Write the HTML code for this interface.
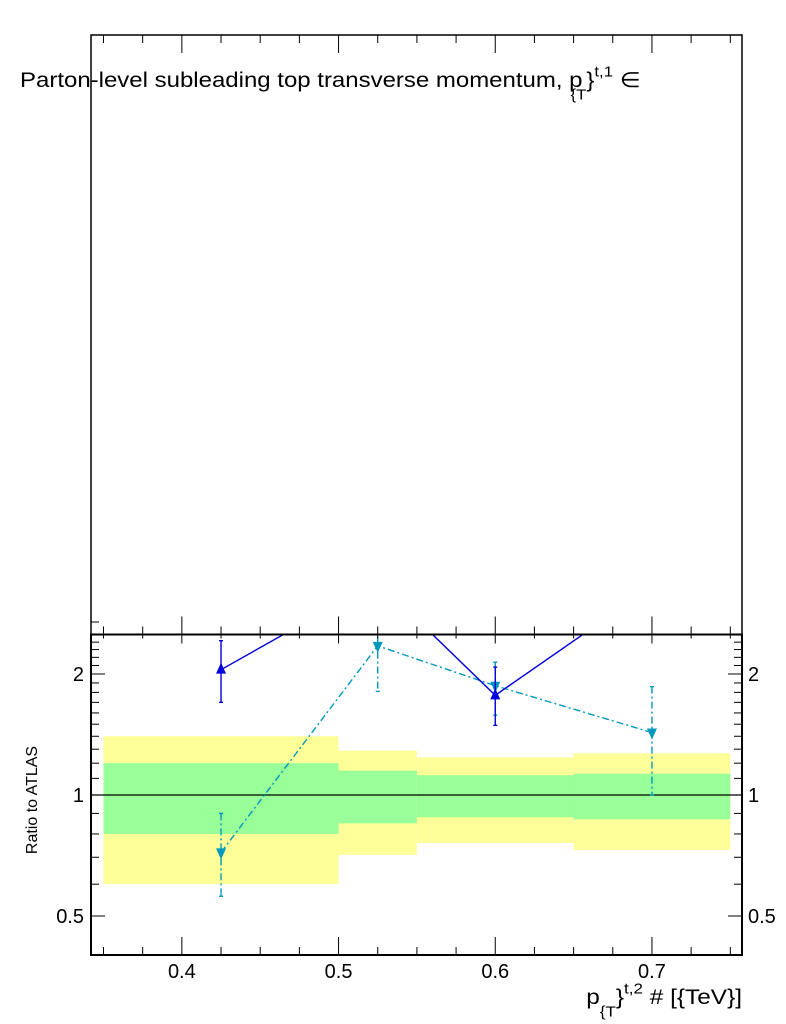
<!DOCTYPE html>
<html><head><meta charset="utf-8"><style>
html,body{margin:0;padding:0;background:#fff;width:786px;height:1024px;overflow:hidden}
svg{display:block;font-family:"Liberation Sans",sans-serif}
</style></head><body>
<svg id="c" width="786" height="1024" xmlns="http://www.w3.org/2000/svg">
<text transform="translate(20,87) scale(1.2,1.05)" x="0" y="0" font-size="20" fill="#000">Parton-level subleading top transverse momentum, p<tspan font-size="14" dy="12" dx="-10">{T</tspan><tspan font-size="20" dy="-12">}</tspan><tspan font-size="14" dy="-10">t,1</tspan><tspan font-size="20" dy="10"> ∈</tspan></text>
<text transform="translate(37,800) rotate(-90)" text-anchor="middle" font-size="16">Ratio to ATLAS</text>
<text transform="translate(742,1004) scale(1.22,1.05)" x="0" y="0" text-anchor="end" font-size="20">p<tspan font-size="14" dy="12">{T</tspan><tspan font-size="20" dy="-12">}</tspan><tspan font-size="14" dy="-10">t,2</tspan><tspan font-size="20" dy="10"> # [{TeV}]</tspan></text>
</svg>
<script>
const binEdges=[0.35,0.5,0.55,0.65,0.75];
const yellowHi=[1.40,1.29,1.24,1.27];
const yellowLo=[0.60,0.71,0.76,0.73];
const greenHi=[1.20,1.15,1.12,1.13];
const greenLo=[0.80,0.85,0.88,0.87];
const blueX=[0.425,0.525,0.6,0.7];
const blueY=[2.05,3.4,1.77,3.3];
const blueErrHi=[2.42,3.8,2.08,3.7];
const blueErrLo=[1.70,3.0,1.49,2.9];
const cyanX=[0.425,0.525,0.6,0.7];
const cyanY=[0.72,2.35,1.87,1.43];
const cyanErrHi=[0.90,2.7,2.14,1.86];
const cyanErrLo=[0.56,1.81,1.58,1.0];
const xTicks=[0.4,0.5,0.6,0.7];
const yTicks=[0.5,1,2];

const L=91,R=742,T=634.5,B=955,TOP=35;
const sx=v=>103.5+(v-0.35)*1567;
const sy=v=>795-402*Math.log10(v);
const svg=document.getElementById('c');
const NS='http://www.w3.org/2000/svg';
function mk(tag,a,parent){const e=document.createElementNS(NS,tag);for(const k in a)e.setAttribute(k,a[k]);(parent||svg).appendChild(e);return e;}
const plot=mk('g',{});


const clip=mk('clipPath',{id:'cp'});mk('rect',{x:L,y:T,width:R-L,height:B-T},clip);
const inner=mk('g',{'clip-path':'url(#cp)'},plot);
for(let i=0;i<4;i++){
 const x0=sx(binEdges[i]),x1=sx(binEdges[i+1]);
 const y=mk('rect',{x:x0,y:sy(yellowHi[i]),width:x1-x0,height:sy(yellowLo[i])-sy(yellowHi[i]),fill:'#ffff99'},inner);
 
 
 const g=mk('rect',{x:x0,y:sy(greenHi[i]),width:x1-x0,height:sy(greenLo[i])-sy(greenHi[i]),fill:'#99ff99'},inner);
 
 
}
const one=mk('line',{x1:L,x2:R,y1:sy(1),y2:sy(1),stroke:'#000','stroke-width':1.3},inner);


function series(xs,ys,hi,lo,color,dash,up,name){
 const g=mk('g',{},inner);
 
 
 mk('polyline',{points:xs.map((x,i)=>sx(x)+','+sy(ys[i])).join(' '),fill:'none',stroke:color,'stroke-width':1.4,'stroke-dasharray':dash},g);
 xs.forEach((x,i)=>{
  const cx=sx(x),cy=sy(ys[i]);
  mk('line',{x1:cx,x2:cx,y1:sy(hi[i]),y2:sy(lo[i]),stroke:color,'stroke-width':1.4,'stroke-dasharray':dash},g);
  mk('line',{x1:cx-2,x2:cx+2,y1:sy(hi[i]),y2:sy(hi[i]),stroke:color,'stroke-width':1.4},g);
  mk('line',{x1:cx-2,x2:cx+2,y1:sy(lo[i]),y2:sy(lo[i]),stroke:color,'stroke-width':1.4},g);
  const pts=up?`${cx},${cy-7} ${cx-5},${cy+4} ${cx+5},${cy+4}`:`${cx},${cy+7} ${cx-5},${cy-4} ${cx+5},${cy-4}`;
  const m=mk('polygon',{points:pts,fill:color},g);
  
  
 });
}
series(cyanX,cyanY,cyanErrHi,cyanErrLo,'#0099bb','7 3 2 3',false,'cyan-series');
series(blueX,blueY,blueErrHi,blueErrLo,'#0000dd','',true,'blue-series');
mk('rect',{x:L,y:TOP,width:R-L,height:T-TOP,fill:'none',stroke:'#000','stroke-width':1.5});
mk('rect',{x:L,y:T,width:R-L,height:B-T,fill:'none',stroke:'#000','stroke-width':2});
for(let v=0.35;v<=0.751;v+=0.025){
 const x=sx(v),maj=xTicks.some(t=>Math.abs(t-v)<1e-6),l=maj?18:8;
 mk('line',{x1:x,x2:x,y1:B,y2:B-l,stroke:'#000','stroke-width':1});
 mk('line',{x1:x,x2:x,y1:T,y2:T+l*0.5,stroke:'#000','stroke-width':1});
 mk('line',{x1:x,x2:x,y1:T,y2:T-l,stroke:'#000','stroke-width':1});
 mk('line',{x1:x,x2:x,y1:TOP,y2:TOP+l,stroke:'#000','stroke-width':1});
}
xTicks.forEach(v=>{const t=mk('text',{x:sx(v),y:978,'text-anchor':'middle','font-size':20});t.textContent=v.toFixed(1);
 
 });
const minors=[0.5,0.6,0.7,0.8,0.9,1,1.1,1.2,1.3,1.4,1.5,1.6,1.7,1.8,1.9,2,2.1,2.2,2.3,2.4,2.5];
minors.forEach(v=>{const y=sy(v),maj=yTicks.includes(v),l=maj?14:8;
 mk('line',{x1:L,x2:L+l,y1:y,y2:y,stroke:'#000','stroke-width':1});
 mk('line',{x1:R,x2:R-l,y1:y,y2:y,stroke:'#000','stroke-width':1});});
mk('line',{x1:L,x2:L+8,y1:622,y2:622,stroke:'#000','stroke-width':1});
yTicks.forEach(v=>{
 const a=mk('text',{x:L-7,y:sy(v)+7,'text-anchor':'end','font-size':20});a.textContent=v;
 
 
 const b=mk('text',{x:R+6,y:sy(v)+7,'font-size':20});b.textContent=v;
 
 
});
</script>
</body></html>
